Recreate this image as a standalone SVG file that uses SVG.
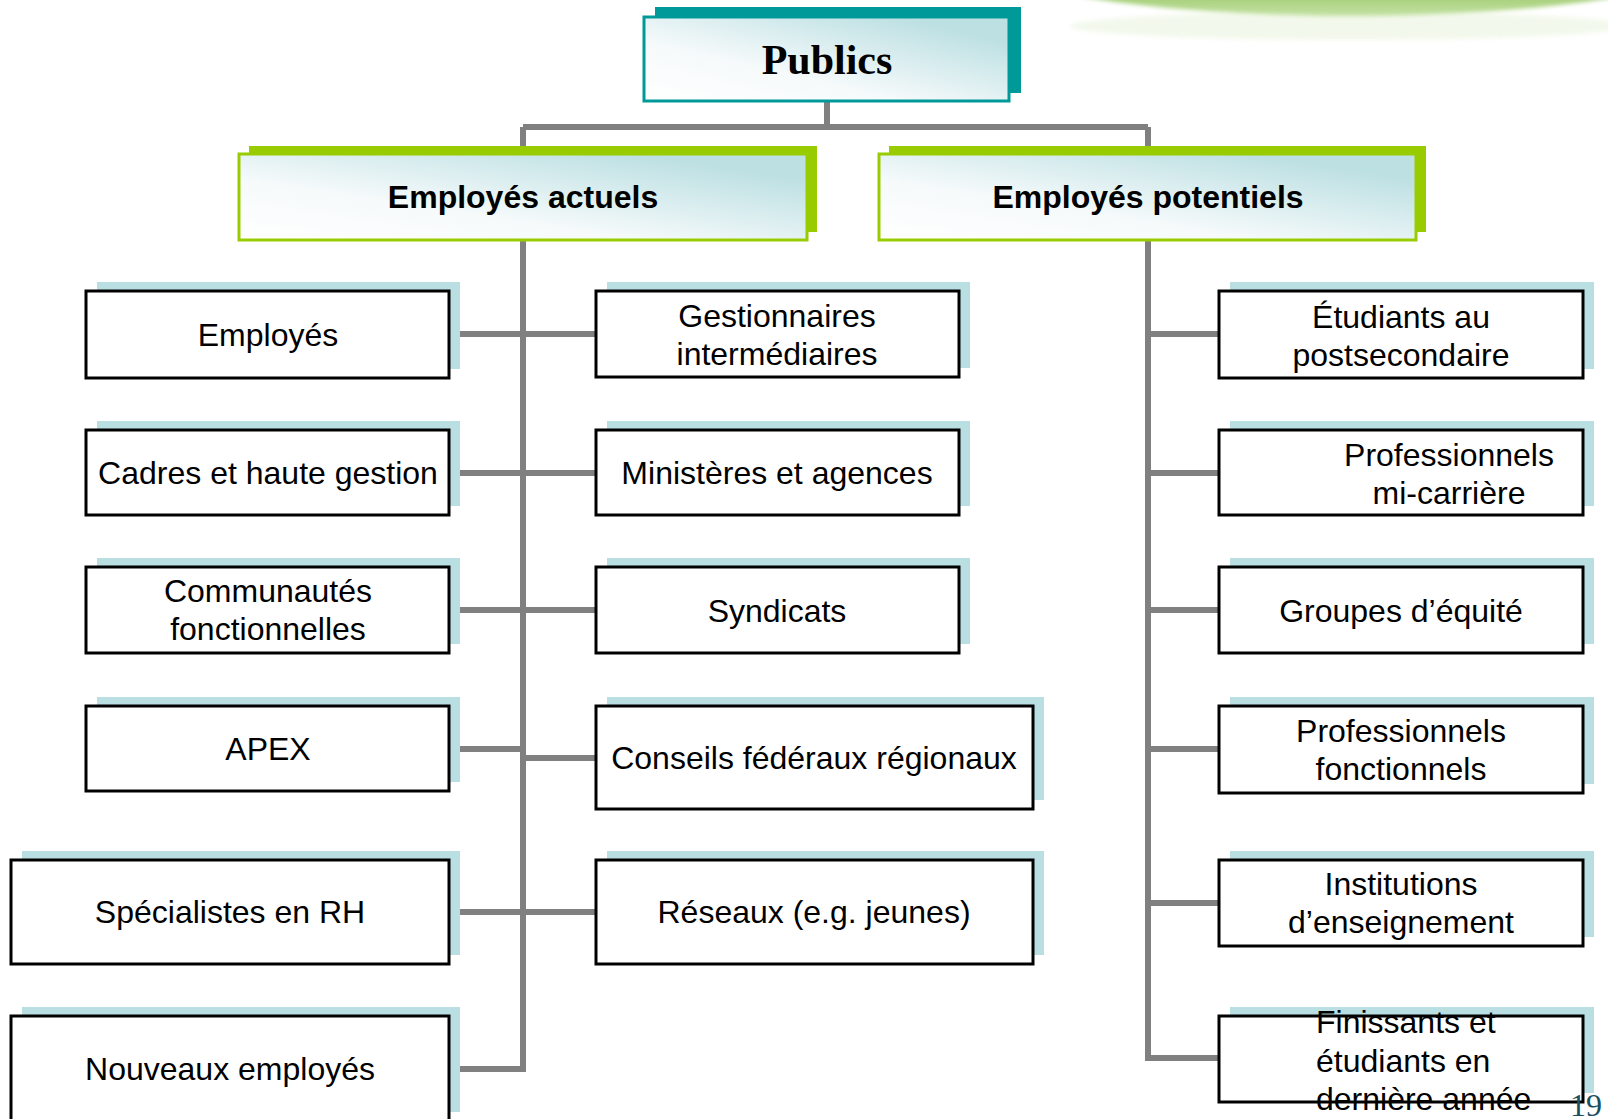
<svg xmlns="http://www.w3.org/2000/svg" width="1608" height="1119" viewBox="0 0 1608 1119">
  <defs>
    <linearGradient id="headFill" x1="0" y1="1" x2="1" y2="0">
      <stop offset="0" stop-color="#ffffff"/>
      <stop offset="0.35" stop-color="#f6fafb"/>
      <stop offset="0.85" stop-color="#bde0e3"/>
      <stop offset="1" stop-color="#bde0e3"/>
    </linearGradient>
    <linearGradient id="swoosh" x1="0" y1="0" x2="0" y2="1">
      <stop offset="0" stop-color="#b4d98e"/>
      <stop offset="0.85" stop-color="#a6cf7a"/>
      <stop offset="1" stop-color="#c4e2a4"/>
    </linearGradient>
    <filter id="soft" x="-10%" y="-50%" width="120%" height="200%">
      <feGaussianBlur stdDeviation="2"/>
    </filter>
    <style>
      .conn { fill: none; stroke: #808080; stroke-width: 6; }
      .shadow { fill: #b9dfe3; }
      .leaf { fill: #ffffff; stroke: #000000; stroke-width: 3; }
      .label { font-family: "Liberation Sans", Arial, sans-serif; font-size: 32px; fill: #000000; text-anchor: middle; }
      .left { text-anchor: start; }
      .head { font-family: "Liberation Sans", Arial, sans-serif; font-size: 32px; font-weight: bold; fill: #000000; text-anchor: middle; }
      .greenShadow { fill: #99cc00; }
      .greenBox { fill: url(#headFill); stroke: #99cc00; stroke-width: 3; }
      .tealShadow { fill: #009999; }
      .tealBox { fill: url(#headFill); stroke: #009999; stroke-width: 3; }
    </style>
  </defs>

  <!-- decorative swoosh in the top right corner -->
  <ellipse cx="1350" cy="26" rx="280" ry="14" fill="#eef6e4" opacity="0.7" filter="url(#soft)"/>
  <ellipse cx="1350" cy="-46" rx="370" ry="62" fill="url(#swoosh)" filter="url(#soft)"/>

  <!-- connectors -->
  <g id="connectors">
    <path class="conn" d="M827 101 V127 M523 127 H1148"/>
    <path class="conn" d="M523 127 V1069 H449"/>
    <path class="conn" d="M1148 127 V1058 H1219"/>
    <path class="conn" d="M449 334 H596 M449 473 H596 M449 610 H596 M449 749 H523 M523 758 H596 M449 912 H596"/>
    <path class="conn" d="M1148 334 H1219 M1148 473 H1219 M1148 610 H1219 M1148 749 H1219 M1148 903 H1219"/>
  </g>

  <!-- root -->
  <g id="publics">
    <rect class="tealShadow" x="655" y="7" width="366" height="86"/>
    <rect class="tealBox" x="644" y="17" width="365" height="84"/>
    <text x="827" y="74" font-family="'Liberation Serif', 'Times New Roman', serif" font-size="42" font-weight="bold" text-anchor="middle">Publics</text>
  </g>

  <!-- branches -->
  <g id="employes-actuels">
    <rect class="greenShadow" x="249" y="146" width="568" height="86"/>
    <rect class="greenBox" x="239" y="154" width="568" height="86"/>
    <text class="head" x="523" y="208">Employés actuels</text>
  </g>
  <g id="employes-potentiels">
    <rect class="greenShadow" x="889" y="146" width="537" height="86"/>
    <rect class="greenBox" x="879" y="154" width="537" height="86"/>
    <text class="head" x="1148" y="208">Employés potentiels</text>
  </g>

  <!-- current employees: left column -->
  <g id="employes">
    <rect class="shadow" x="97" y="282" width="363" height="87"/>
    <rect class="leaf" x="86" y="291" width="363" height="87"/>
    <text class="label" x="268" y="346">Employés</text>
  </g>
  <g id="cadres">
    <rect class="shadow" x="97" y="421" width="363" height="85"/>
    <rect class="leaf" x="86" y="430" width="363" height="85"/>
    <text class="label" x="268" y="484">Cadres et haute gestion</text>
  </g>
  <g id="communautes">
    <rect class="shadow" x="97" y="558" width="363" height="86"/>
    <rect class="leaf" x="86" y="567" width="363" height="86"/>
    <text class="label" x="268" y="602">Communautés</text>
    <text class="label" x="268" y="640">fonctionnelles</text>
  </g>
  <g id="apex">
    <rect class="shadow" x="97" y="697" width="363" height="85"/>
    <rect class="leaf" x="86" y="706" width="363" height="85"/>
    <text class="label" x="268" y="760">APEX</text>
  </g>
  <g id="specialistes-rh">
    <rect class="shadow" x="22" y="851" width="438" height="104"/>
    <rect class="leaf" x="11" y="860" width="438" height="104"/>
    <text class="label" x="230" y="923">Spécialistes en RH</text>
  </g>
  <g id="nouveaux-employes">
    <rect class="shadow" x="22" y="1007" width="438" height="105"/>
    <rect class="leaf" x="11" y="1016" width="438" height="105"/>
    <text class="label" x="230" y="1080">Nouveaux employés</text>
  </g>

  <!-- current employees: middle column -->
  <g id="gestionnaires">
    <rect class="shadow" x="607" y="282" width="363" height="86"/>
    <rect class="leaf" x="596" y="291" width="363" height="86"/>
    <text class="label" x="777" y="327">Gestionnaires</text>
    <text class="label" x="777" y="365">intermédiaires</text>
  </g>
  <g id="ministeres">
    <rect class="shadow" x="607" y="421" width="363" height="85"/>
    <rect class="leaf" x="596" y="430" width="363" height="85"/>
    <text class="label" x="777" y="484">Ministères et agences</text>
  </g>
  <g id="syndicats">
    <rect class="shadow" x="607" y="558" width="363" height="86"/>
    <rect class="leaf" x="596" y="567" width="363" height="86"/>
    <text class="label" x="777" y="622">Syndicats</text>
  </g>
  <g id="conseils">
    <rect class="shadow" x="607" y="697" width="437" height="103"/>
    <rect class="leaf" x="596" y="706" width="437" height="103"/>
    <text class="label" x="814" y="769">Conseils fédéraux régionaux</text>
  </g>
  <g id="reseaux">
    <rect class="shadow" x="607" y="851" width="437" height="104"/>
    <rect class="leaf" x="596" y="860" width="437" height="104"/>
    <text class="label" x="814" y="923">Réseaux (e.g. jeunes)</text>
  </g>

  <!-- potential employees: right column -->
  <g id="etudiants">
    <rect class="shadow" x="1230" y="282" width="364" height="87"/>
    <rect class="leaf" x="1219" y="291" width="364" height="87"/>
    <text class="label" x="1401" y="328">Étudiants au</text>
    <text class="label" x="1401" y="366">postsecondaire</text>
  </g>
  <g id="mi-carriere">
    <rect class="shadow" x="1230" y="421" width="364" height="85"/>
    <rect class="leaf" x="1219" y="430" width="364" height="85"/>
    <text class="label" x="1449" y="466">Professionnels</text>
    <text class="label" x="1449" y="504">mi-carrière</text>
  </g>
  <g id="equite">
    <rect class="shadow" x="1230" y="558" width="364" height="86"/>
    <rect class="leaf" x="1219" y="567" width="364" height="86"/>
    <text class="label" x="1401" y="622">Groupes d’équité</text>
  </g>
  <g id="fonctionnels">
    <rect class="shadow" x="1230" y="697" width="364" height="87"/>
    <rect class="leaf" x="1219" y="706" width="364" height="87"/>
    <text class="label" x="1401" y="742">Professionnels</text>
    <text class="label" x="1401" y="780">fonctionnels</text>
  </g>
  <g id="institutions">
    <rect class="shadow" x="1230" y="851" width="364" height="86"/>
    <rect class="leaf" x="1219" y="860" width="364" height="86"/>
    <text class="label" x="1401" y="895">Institutions</text>
    <text class="label" x="1401" y="933">d’enseignement</text>
  </g>
  <g id="finissants">
    <rect class="shadow" x="1230" y="1007" width="364" height="86"/>
    <rect class="leaf" x="1219" y="1016" width="364" height="86"/>
    <text class="label left" x="1316" y="1033">Finissants et</text>
    <text class="label left" x="1316" y="1072">étudiants en</text>
    <text class="label left" x="1316" y="1110">dernière année</text>
  </g>

  <!-- page number -->
  <text x="1570" y="1116" font-family="'Liberation Serif', 'Times New Roman', serif" font-size="32" fill="#1b4f5e">19</text>
</svg>
